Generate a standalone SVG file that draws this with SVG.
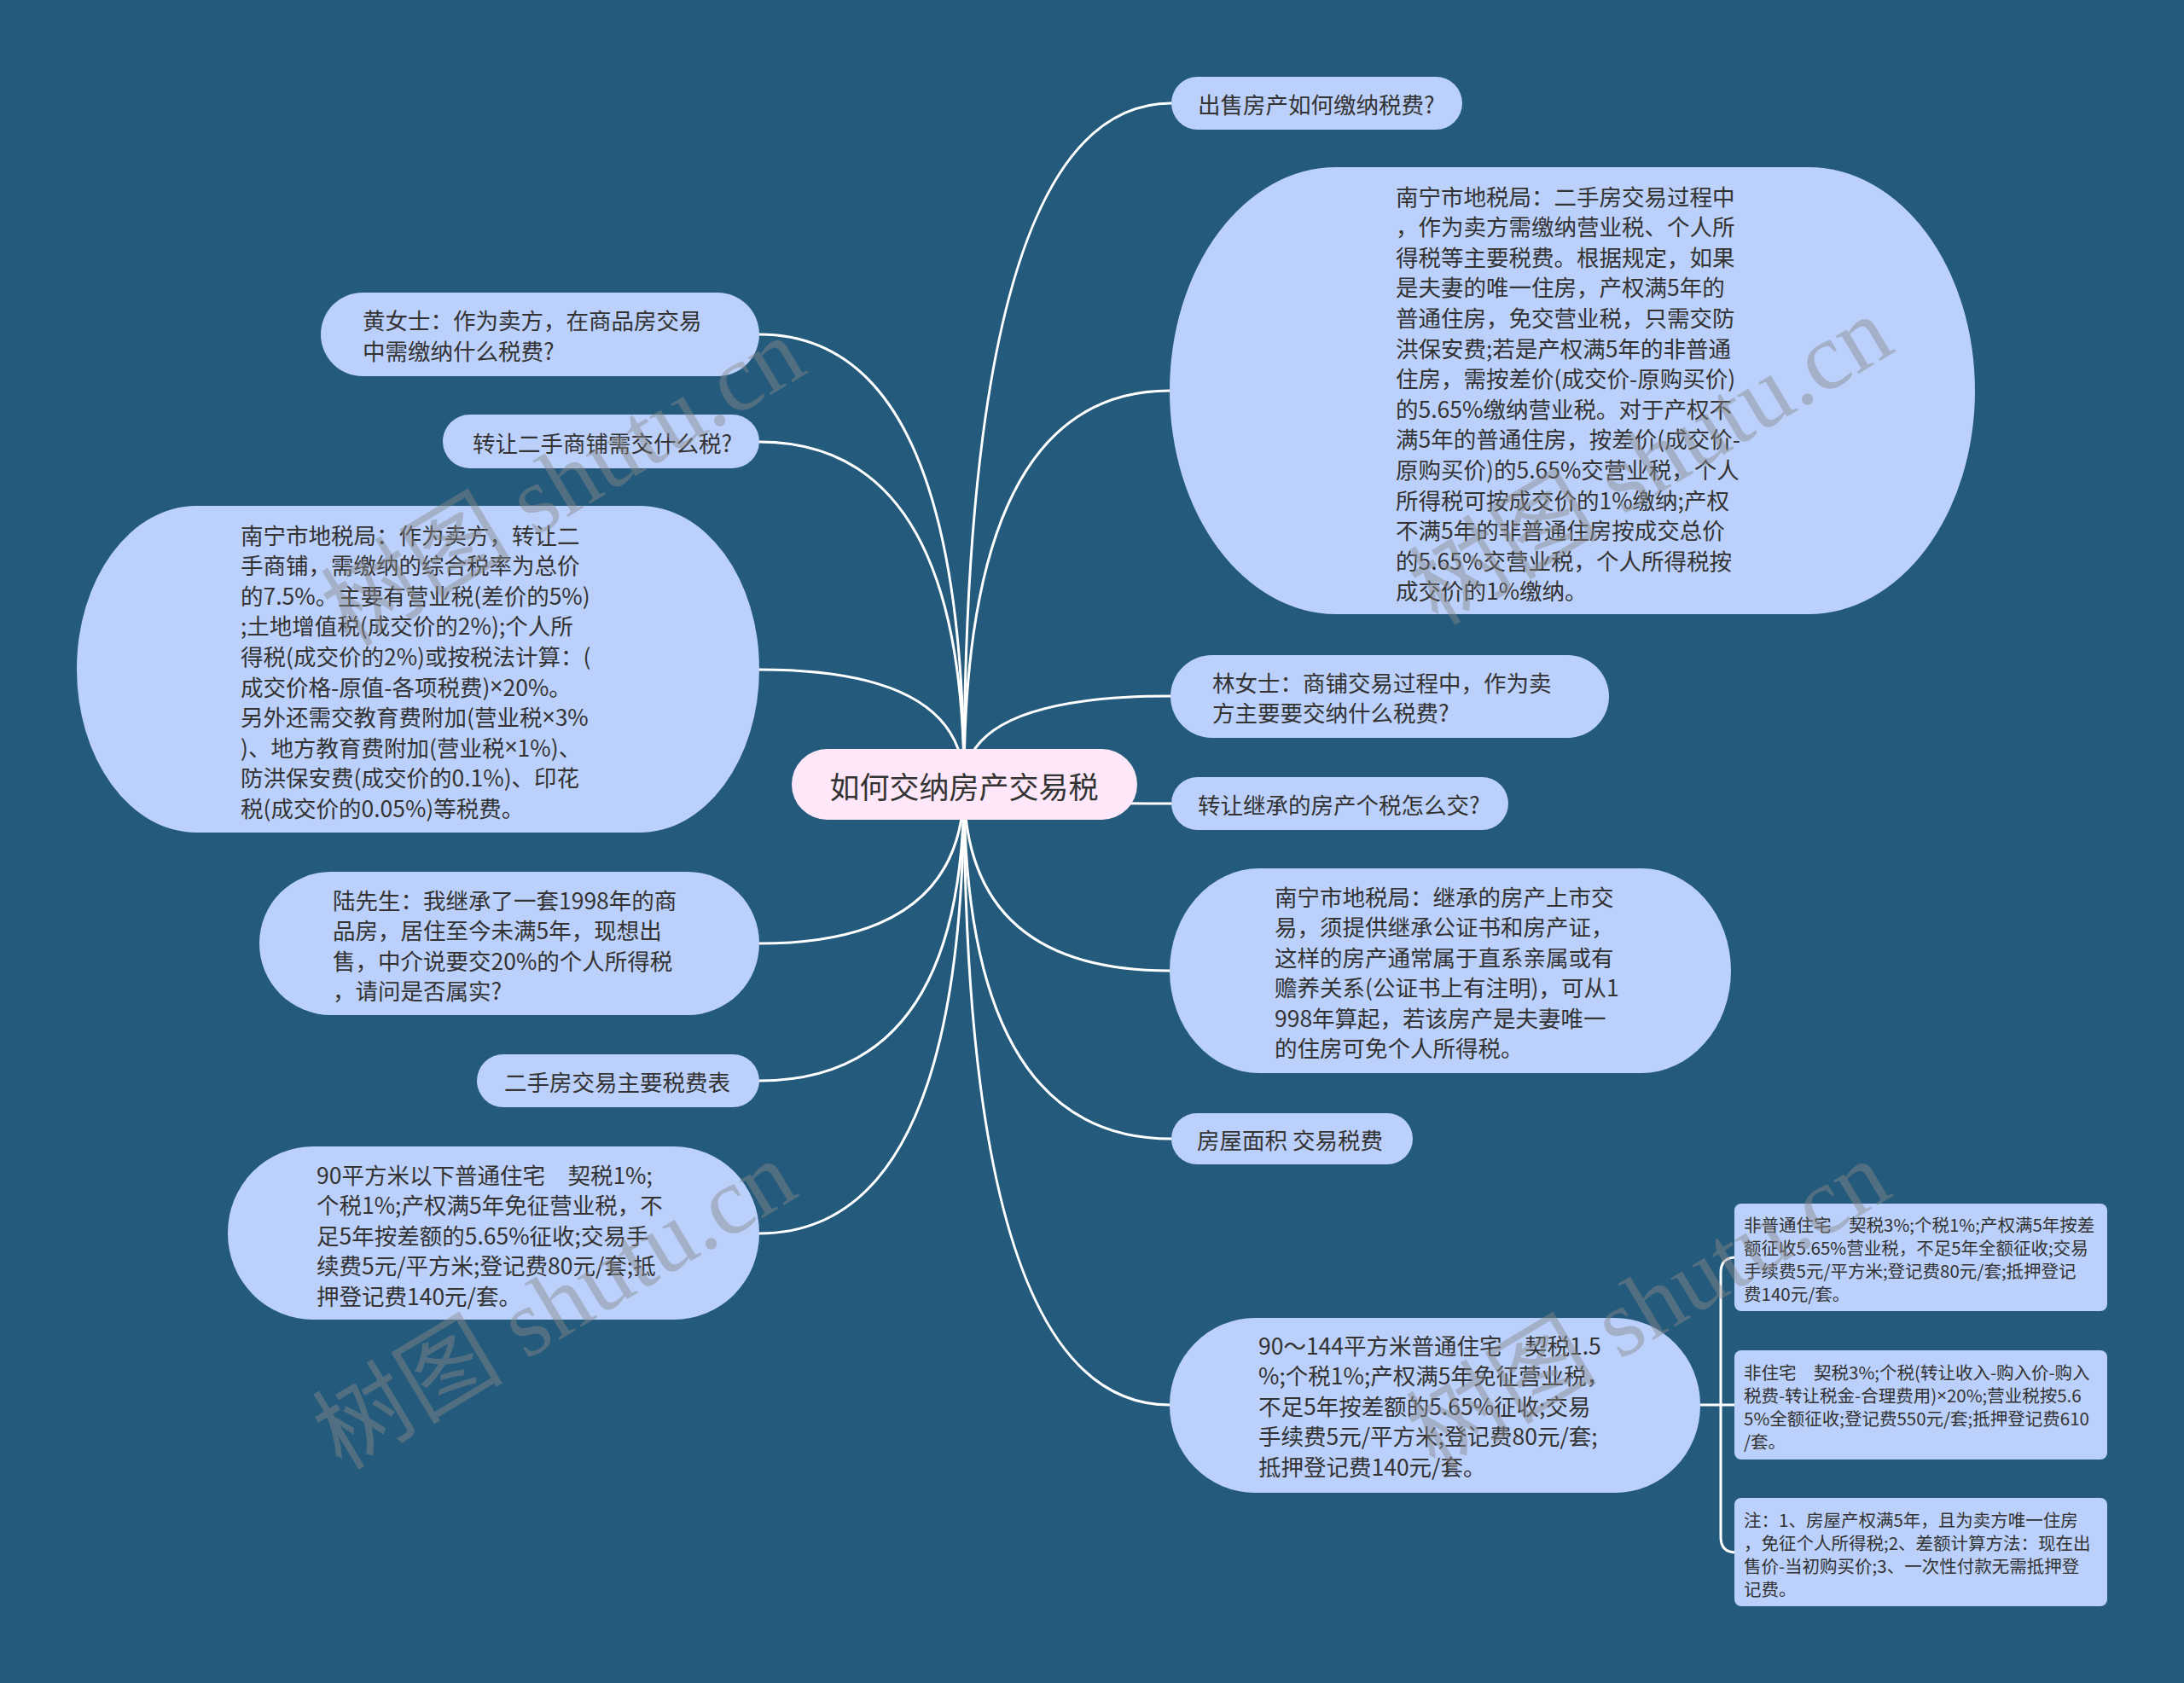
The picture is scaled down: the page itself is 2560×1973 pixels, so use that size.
<svg xmlns="http://www.w3.org/2000/svg" width="2560" height="1973" viewBox="0 0 2560 1973">
<style>
.bg{fill:#245a7b}
.node{fill:#bbd0fb}
.root{fill:#fde7f8}
.link{fill:none;stroke:#ffffff;stroke-width:3;stroke-linecap:round}
text{font-family:"Noto Sans CJK SC","Noto Sans",sans-serif;fill:#333333;dominant-baseline:central}
.t{font-size:26.5px}
.s{font-size:20.5px}
.r{font-size:35px;text-anchor:middle}
.x{font-family:"Noto Sans","DejaVu Sans",sans-serif}
.wm{font-family:"Liberation Serif","Noto Sans CJK SC",serif;font-size:112px;fill:#8a8a8a;fill-opacity:0.45;text-anchor:middle}
</style>
<rect class="bg" x="0" y="0" width="2560" height="1973"/>
<g id="connectors">
<path class="link" d="M1130,920 Q1130,392 890,392"/>
<path class="link" d="M1130,920 Q1130,518 890,518"/>
<path class="link" d="M1130,920 Q1130,785 890,785"/>
<path class="link" d="M1130,920 Q1130,1106 890,1106"/>
<path class="link" d="M1130,920 Q1130,1267 890,1267"/>
<path class="link" d="M1130,920 Q1130,1446 890,1446"/>
<path class="link" d="M1130,920 Q1130,121 1373,121"/>
<path class="link" d="M1130,920 Q1130,458 1371,458"/>
<path class="link" d="M1130,920 Q1130,816 1372,816"/>
<path class="link" d="M1130,920 Q1130,942 1373,942"/>
<path class="link" d="M1130,920 Q1130,1138 1371,1138"/>
<path class="link" d="M1130,920 Q1130,1335 1373,1335"/>
<path class="link" d="M1130,920 Q1130,1647 1371,1647"/>
<path class="link" d="M1993,1647 H2035"/>
<path class="link" d="M2017,1647 V1492 Q2017,1474 2035,1474"/>
<path class="link" d="M2017,1647 V1802 Q2017,1820 2035,1820"/>
</g>
<g id="root">
<rect class="root" x="928" y="878" width="405" height="83" rx="41.5"/>
<text class="r" x="1130" y="920">如何交纳房产交易税</text>
</g>
<g id="r1">
<rect class="node" x="1373" y="90" width="341" height="62" rx="31"/>
<text class="t" x="1404" y="121">出售房产如何缴纳税费?</text>
</g>
<g id="r2">
<rect class="node" x="1371" y="196" width="944" height="524" rx="195" ry="262"/>
<text class="t" x="1636" y="229">南宁市地税局：二手房交易过程中</text>
<text class="t" x="1636" y="264.6">，作为卖方需缴纳营业税、个人所</text>
<text class="t" x="1636" y="300.2">得税等主要税费。根据规定，如果</text>
<text class="t" x="1636" y="335.8">是夫妻的唯一住房，产权满5年的</text>
<text class="t" x="1636" y="371.4">普通住房，免交营业税，只需交防</text>
<text class="t" x="1636" y="407">洪保安费;若是产权满5年的非普通</text>
<text class="t" x="1636" y="442.6">住房，需按差价(成交价-原购买价)</text>
<text class="t" x="1636" y="478.2">的5.65%缴纳营业税。对于产权不</text>
<text class="t" x="1636" y="513.8">满5年的普通住房，按差价(成交价-</text>
<text class="t" x="1636" y="549.4">原购买价)的5.65%交营业税，个人</text>
<text class="t" x="1636" y="585">所得税可按成交价的1%缴纳;产权</text>
<text class="t" x="1636" y="620.6">不满5年的非普通住房按成交总价</text>
<text class="t" x="1636" y="656.2">的5.65%交营业税，个人所得税按</text>
<text class="t" x="1636" y="691.8">成交价的1%缴纳。</text>
</g>
<g id="r3">
<rect class="node" x="1372" y="768" width="514" height="97" rx="48.5"/>
<text class="t" x="1421" y="799">林女士：商铺交易过程中，作为卖</text>
<text class="t" x="1421" y="834">方主要要交纳什么税费?</text>
</g>
<g id="r4">
<rect class="node" x="1373" y="911" width="395" height="62" rx="31"/>
<text class="t" x="1404" y="942">转让继承的房产个税怎么交?</text>
</g>
<g id="r5">
<rect class="node" x="1371" y="1018" width="658" height="240" rx="105" ry="120"/>
<text class="t" x="1494" y="1050">南宁市地税局：继承的房产上市交</text>
<text class="t" x="1494" y="1085.5">易，须提供继承公证书和房产证，</text>
<text class="t" x="1494" y="1121">这样的房产通常属于直系亲属或有</text>
<text class="t" x="1494" y="1156.5">赡养关系(公证书上有注明)，可从1</text>
<text class="t" x="1494" y="1192">998年算起，若该房产是夫妻唯一</text>
<text class="t" x="1494" y="1227.5">的住房可免个人所得税。</text>
</g>
<g id="r6">
<rect class="node" x="1373" y="1305" width="283" height="60" rx="30"/>
<text class="t" x="1403" y="1335">房屋面积 交易税费</text>
</g>
<g id="r7">
<rect class="node" x="1371" y="1545" width="622" height="205" rx="100" ry="102"/>
<text class="t" x="1475" y="1576">90～144平方米普通住宅　契税1.5</text>
<text class="t" x="1475" y="1611.6">%;个税1%;产权满5年免征营业税，</text>
<text class="t" x="1475" y="1647.2">不足5年按差额的5.65%征收;交易</text>
<text class="t" x="1475" y="1682.8">手续费5元/平方米;登记费80元/套;</text>
<text class="t" x="1475" y="1718.4">抵押登记费140元/套。</text>
</g>
<g id="c1">
<rect class="node" x="2033" y="1411" width="437" height="126" rx="8"/>
<text class="s" x="2044" y="1435">非普通住宅　契税3%;个税1%;产权满5年按差</text>
<text class="s" x="2044" y="1462">额征收5.65%营业税，不足5年全额征收;交易</text>
<text class="s" x="2044" y="1489">手续费5元/平方米;登记费80元/套;抵押登记</text>
<text class="s" x="2044" y="1516">费140元/套。</text>
</g>
<g id="c2">
<rect class="node" x="2033" y="1583" width="437" height="128" rx="8"/>
<text class="s" x="2044" y="1608">非住宅　契税3%;个税(转让收入-购入价-购入</text>
<text class="s" x="2044" y="1635">税费-转让税金-合理费用)<tspan class="x">×</tspan>20%;营业税按5.6</text>
<text class="s" x="2044" y="1662">5%全额征收;登记费550元/套;抵押登记费610</text>
<text class="s" x="2044" y="1689">/套。</text>
</g>
<g id="c3">
<rect class="node" x="2033" y="1756" width="437" height="127" rx="8"/>
<text class="s" x="2044" y="1781">注：1、房屋产权满5年，且为卖方唯一住房</text>
<text class="s" x="2044" y="1808">，免征个人所得税;2、差额计算方法：现在出</text>
<text class="s" x="2044" y="1835">售价-当初购买价;3、一次性付款无需抵押登</text>
<text class="s" x="2044" y="1862">记费。</text>
</g>
<g id="l1">
<rect class="node" x="376" y="343" width="514" height="98" rx="49"/>
<text class="t" x="425" y="374">黄女士：作为卖方，在商品房交易</text>
<text class="t" x="425" y="410">中需缴纳什么税费?</text>
</g>
<g id="l2">
<rect class="node" x="519" y="486" width="371" height="63" rx="31.5"/>
<text class="t" x="554" y="518">转让二手商铺需交什么税?</text>
</g>
<g id="l3">
<rect class="node" x="90" y="593" width="800" height="383" rx="140" ry="191"/>
<text class="t" x="282" y="626">南宁市地税局：作为卖方，转让二</text>
<text class="t" x="282" y="661.6">手商铺，需缴纳的综合税率为总价</text>
<text class="t" x="282" y="697.2">的7.5%。主要有营业税(差价的5%)</text>
<text class="t" x="282" y="732.8">;土地增值税(成交价的2%);个人所</text>
<text class="t" x="282" y="768.4">得税(成交价的2%)或按税法计算：(</text>
<text class="t" x="282" y="804">成交价格-原值-各项税费)<tspan class="x">×</tspan>20%。</text>
<text class="t" x="282" y="839.6">另外还需交教育费附加(营业税<tspan class="x">×</tspan>3%</text>
<text class="t" x="282" y="875.2">)、地方教育费附加(营业税<tspan class="x">×</tspan>1%)、</text>
<text class="t" x="282" y="910.8">防洪保安费(成交价的0.1%)、印花</text>
<text class="t" x="282" y="946.4">税(成交价的0.05%)等税费。</text>
</g>
<g id="l4">
<rect class="node" x="304" y="1022" width="586" height="168" rx="84"/>
<text class="t" x="390" y="1054">陆先生：我继承了一套1998年的商</text>
<text class="t" x="390" y="1089.6">品房，居住至今未满5年，现想出</text>
<text class="t" x="390" y="1125.2">售，中介说要交20%的个人所得税</text>
<text class="t" x="390" y="1160.8">，请问是否属实?</text>
</g>
<g id="l5">
<rect class="node" x="559" y="1236" width="331" height="62" rx="31"/>
<text class="t" x="591" y="1267">二手房交易主要税费表</text>
</g>
<g id="l6">
<rect class="node" x="267" y="1344" width="623" height="203" rx="100" ry="101"/>
<text class="t" x="371" y="1376">90平方米以下普通住宅　契税1%;</text>
<text class="t" x="371" y="1411.6">个税1%;产权满5年免征营业税，不</text>
<text class="t" x="371" y="1447.2">足5年按差额的5.65%征收;交易手</text>
<text class="t" x="371" y="1482.8">续费5元/平方米;登记费80元/套;抵</text>
<text class="t" x="371" y="1518.4">押登记费140元/套。</text>
</g>
<g id="watermarks">
<text class="wm" transform="translate(660,565) rotate(-31)">树图 shutu.cn</text>
<text class="wm" transform="translate(1935,540) rotate(-31)">树图 shutu.cn</text>
<text class="wm" transform="translate(650,1530) rotate(-31)">树图 shutu.cn</text>
<text class="wm" transform="translate(1932,1530) rotate(-31)">树图 shutu.cn</text>
</g>
</svg>
